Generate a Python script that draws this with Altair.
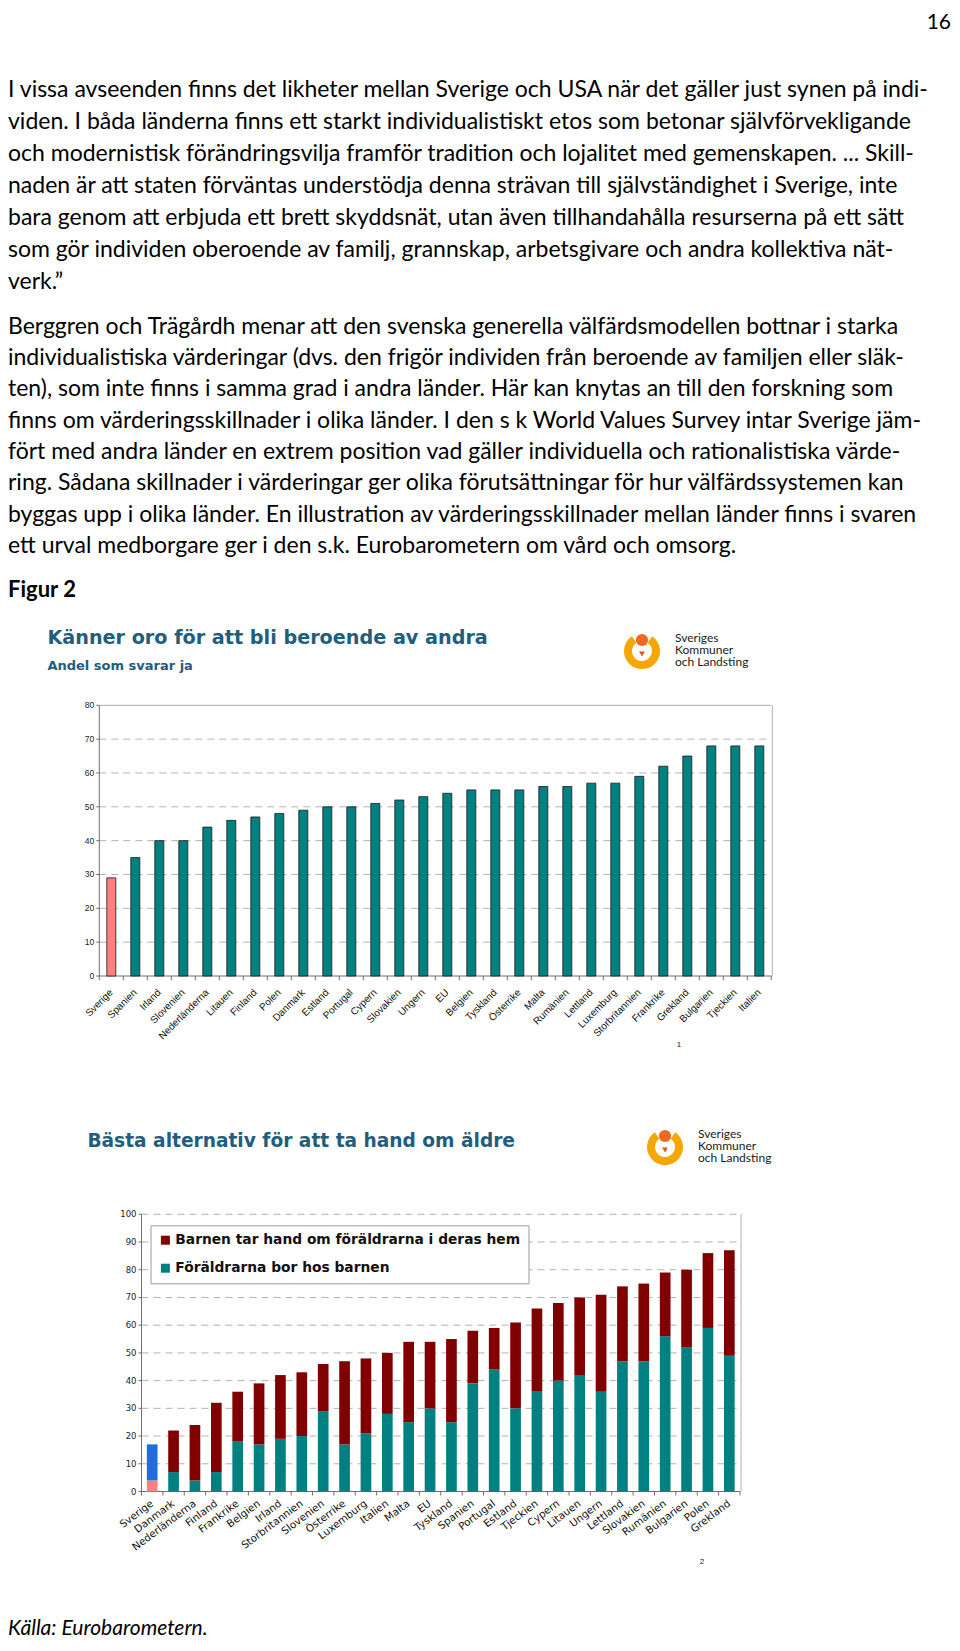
import altair as alt
import pandas as pd

# ---------------- data ----------------
page_number = "16"

para1 = [
    "I vissa avseenden finns det likheter mellan Sverige och USA när det gäller just synen på indi-",
    "viden. I båda länderna finns ett starkt individualistiskt etos som betonar självförvekligande",
    "och modernistisk förändringsvilja framför tradition och lojalitet med gemenskapen. ... Skill-",
    "naden är att staten förväntas understödja denna strävan till självständighet i Sverige, inte",
    "bara genom att erbjuda ett brett skyddsnät, utan även tillhandahålla resurserna på ett sätt",
    "som gör individen oberoende av familj, grannskap, arbetsgivare och andra kollektiva nät-",
    "verk.”",
]
para2 = [
    "Berggren och Trägårdh menar att den svenska generella välfärdsmodellen bottnar i starka",
    "individualistiska värderingar (dvs. den frigör individen från beroende av familjen eller släk-",
    "ten), som inte finns i samma grad i andra länder. Här kan knytas an till den forskning som",
    "finns om värderingsskillnader i olika länder. I den s k World Values Survey intar Sverige jäm-",
    "fört med andra länder en extrem position vad gäller individuella och rationalistiska värde-",
    "ring. Sådana skillnader i värderingar ger olika förutsättningar för hur välfärdssystemen kan",
    "byggas upp i olika länder. En illustration av värderingsskillnader mellan länder finns i svaren",
    "ett urval medborgare ger i den s.k. Eurobarometern om vård och omsorg.",
]
figure_label = "Figur 2"
source_note = "Källa: Eurobarometern."
logo_lines = ["Sveriges", "Kommuner", "och Landsting"]

c1_title = "Känner oro för att bli beroende av andra"
c1_subtitle = "Andel som svarar ja"
c1_countries = ["Sverige", "Spanien", "Irland", "Slovenien", "Nederländerna", "Litauen",
                "Finland", "Polen", "Danmark", "Estland", "Portugal", "Cypern", "Slovakien",
                "Ungern", "EU", "Belgien", "Tyskland", "Österrike", "Malta", "Rumänien",
                "Lettland", "Luxemburg", "Storbritannien", "Frankrike", "Grekland",
                "Bulgarien", "Tjeckien", "Italien"]
c1_values = [29, 35, 40, 40, 44, 46, 47, 48, 49, 50, 50, 51, 52, 53, 54, 55, 55, 55,
             56, 56, 57, 57, 59, 62, 65, 68, 68, 68]
c1_yticks = [0, 10, 20, 30, 40, 50, 60, 70, 80]
c1_note = "1"

c2_title = "Bästa alternativ för att ta hand om äldre"
c2_series = ["Barnen tar hand om föräldrarna i deras hem", "Föräldrarna bor hos barnen"]
c2_countries = ["Sverige", "Danmark", "Nederländerna", "Finland", "Frankrike", "Belgien",
                "Irland", "Storbritannien", "Slovenien", "Österrike", "Luxemburg", "Italien",
                "Malta", "EU", "Tyskland", "Spanien", "Portugal", "Estland", "Tjeckien",
                "Cypern", "Litauen", "Ungern", "Lettland", "Slovakien", "Rumänien",
                "Bulgarien", "Polen", "Grekland"]
c2_parents_live = [4, 7, 4, 7, 18, 17, 19, 20, 29, 17, 21, 28, 25, 30, 25, 39, 44, 30,
                   36, 40, 42, 36, 47, 47, 56, 52, 59, 49]
c2_total = [17, 22, 24, 32, 36, 39, 42, 43, 46, 47, 48, 50, 54, 54, 55, 58, 59, 61,
            66, 68, 70, 71, 74, 75, 79, 80, 86, 87]
c2_yticks = [0, 10, 20, 30, 40, 50, 60, 70, 80, 90, 100]
c2_note = "2"

# ---------------- layout / style ----------------
W, H = 944, 1632
X1L, X1R = 91.3, 763.3
Y1B, Y1T = 968.0, 697.3
X2L, X2R = 133.5, 732.0
Y2B, Y2T = 1483.5, 1206.3

TEAL = "#008080"
DARKRED = "#800000"
PINK = "#FF8080"
BLUE = "#1E6FD9"
TITLE_BLUE = "#215E7E"
BODY_FONT = "Lato"
WIDE_FONT = "DejaVu Sans"
ARIAL = "Liberation Sans"
NARROW = "Liberation Sans Narrow, Liberation Sans"
GRID = "#b3b3b3"
AXIS = "#6f6f6f"
BODY_SIZE = 23


def single(text):
    return alt.Chart(pd.DataFrame({"t": [text]}))


def text_block(lines, y_first, y_last):
    df = pd.DataFrame({"rad": list(range(len(lines))), "t": lines})
    return alt.Chart(df).mark_text(
        align="left", baseline="middle", font=BODY_FONT, fontSize=BODY_SIZE, color="#000"
    ).encode(
        x=alt.value(0),
        y=alt.Y("rad:Q", scale=alt.Scale(domain=[0, len(lines) - 1], range=[y_first, y_last]),
                axis=None),
        text="t:N",
    )


def logo(cx, cy, tx, ty):
    base = single("\n".join(logo_lines))
    arms = base.mark_arc(theta=0.6, theta2=5.68, innerRadius=10, outerRadius=18,
                         color="#F7A600").encode(x=alt.value(cx), y=alt.value(cy))
    head = base.mark_point(filled=True, shape="circle", size=150, color="#EE6A1F",
                           opacity=1).encode(x=alt.value(cx), y=alt.value(cy - 11))
    drop = base.mark_point(filled=True, shape="triangle-down", size=34, color="#E2531A",
                           opacity=1).encode(x=alt.value(cx), y=alt.value(cy + 3))
    lines = pd.DataFrame({"rad": list(range(len(logo_lines))), "t": logo_lines})
    txt = alt.Chart(lines).mark_text(align="left", baseline="middle", font=BODY_FONT,
                                     fontSize=12, color="#1a1a1a").encode(
        x=alt.value(tx),
        y=alt.Y("rad:Q", scale=alt.Scale(domain=[0, len(logo_lines) - 1],
                                         range=[ty, ty + 24.4]), axis=None),
        text="t:N")
    return [arms, head, drop, txt]


def bar_panel(countries, xl, xr, yscale, yb, ymax, yticks, ylab_font, ylab_size,
              xlab_font, xlab_size, xlab_angle, xlab_gap, grid_vals, frame_top_solid):
    n = len(countries)
    idx = alt.Scale(domain=[0, n], range=[xl, xr], nice=False, zero=False)
    out = []
    # grid
    out.append(alt.Chart(pd.DataFrame({"v": grid_vals})).mark_rule(
        color=GRID, strokeDash=[7, 5], strokeWidth=1).encode(
        y=alt.Y("v:Q", scale=yscale, axis=None), x=alt.value(xl), x2=alt.value(xr)))
    if frame_top_solid:
        out.append(alt.Chart(pd.DataFrame({"v": [ymax]})).mark_rule(
            color="#a9a9a9", strokeWidth=1).encode(
            y=alt.Y("v:Q", scale=yscale, axis=None), x=alt.value(xl), x2=alt.value(xr)))
    # right frame
    out.append(alt.Chart(pd.DataFrame({"lo": [0], "hi": [ymax]})).mark_rule(
        color="#b0b0b0", strokeWidth=1).encode(
        x=alt.value(xr + 1), y=alt.Y("lo:Q", scale=yscale, axis=None), y2="hi:Q"))
    # y axis domain, ticks, labels
    out.append(alt.Chart(pd.DataFrame({"lo": [0], "hi": [ymax]})).mark_rule(
        color=AXIS, strokeWidth=1).encode(
        x=alt.value(xl), y=alt.Y("lo:Q", scale=yscale, axis=None), y2="hi:Q"))
    ydf = pd.DataFrame({"v": yticks})
    out.append(alt.Chart(ydf).mark_rule(color=AXIS, strokeWidth=1).encode(
        x=alt.value(xl - 3), x2=alt.value(xl), y=alt.Y("v:Q", scale=yscale, axis=None)))
    out.append(alt.Chart(ydf).mark_text(align="right", baseline="middle", font=ylab_font,
                                         fontSize=ylab_size, color="#222").encode(
        x=alt.value(xl - 5), y=alt.Y("v:Q", scale=yscale, axis=None), text="v:Q"))
    # x axis domain, ticks, labels
    out.append(alt.Chart(pd.DataFrame({"v": [0]})).mark_rule(color=AXIS, strokeWidth=1).encode(
        y=alt.Y("v:Q", scale=yscale, axis=None), x=alt.value(xl), x2=alt.value(xr)))
    out.append(alt.Chart(pd.DataFrame({"i": list(range(n + 1))})).mark_rule(
        color=AXIS, strokeWidth=1).encode(
        x=alt.X("i:Q", scale=idx, axis=None), y=alt.value(yb), y2=alt.value(yb + 4)))
    ldf = pd.DataFrame({"pos": [i + 0.5 for i in range(n)], "land": countries})
    out.append(alt.Chart(ldf).mark_text(angle=xlab_angle, align="right", baseline="middle",
                                         font=xlab_font, fontSize=xlab_size,
                                         color="#111").encode(
        x=alt.X("pos:Q", scale=idx, axis=None), y=alt.value(yb + xlab_gap), text="land:N"))
    return out


# ---------------- text ----------------
p1 = text_block(para1, 82.0, 273.7)
p2 = text_block(para2, 318.7, 538.0)
fig = single(figure_label).mark_text(align="left", baseline="middle", font=BODY_FONT,
                                     fontSize=22, fontWeight="bold", color="#000").encode(
    x=alt.value(0), y=alt.value(582), text="t:N")
pno = single(page_number).mark_text(align="right", baseline="top", font=BODY_FONT,
                                    fontSize=21, color="#000").encode(
    x=alt.value(943), y=alt.value(4), text="t:N")
src = single(source_note).mark_text(align="left", baseline="bottom", font=BODY_FONT,
                                    fontSize=21, fontStyle="italic", color="#000").encode(
    x=alt.value(0), y=alt.value(1631), text="t:N")

# ---------------- chart 1 ----------------
c1t = single(c1_title).mark_text(align="left", baseline="middle", font=WIDE_FONT,
                                 fontSize=19.2, fontWeight="bold", color=TITLE_BLUE).encode(
    x=alt.value(39.4), y=alt.value(630), text="t:N")
c1s = single(c1_subtitle).mark_text(align="left", baseline="middle", font=WIDE_FONT,
                                    fontSize=13, fontWeight="bold", color=TITLE_BLUE).encode(
    x=alt.value(39.4), y=alt.value(658), text="t:N")

c1_df = pd.DataFrame({"land": c1_countries, "andel": c1_values})
c1_yscale = alt.Scale(domain=[0, 80], range=[Y1B, Y1T], nice=False, zero=False)
c1_xscale = alt.Scale(type="band", domain=c1_countries, range=[X1L, X1R], paddingInner=0.625,
                      paddingOuter=0.3125)

c1_furniture = bar_panel(c1_countries, X1L, X1R, c1_yscale, Y1B, 80, c1_yticks, ARIAL, 8.5,
                         NARROW, 10, 315, 15, c1_yticks[1:-1], True)
c1_bars = alt.Chart(c1_df).mark_bar(stroke="#1a1a1a", strokeWidth=0.8).encode(
    x=alt.X("land:N", title=None, scale=c1_xscale, axis=None),
    y=alt.Y("andel:Q", title=None, scale=c1_yscale, axis=None),
    color=alt.condition(alt.datum.land == "Sverige", alt.value(PINK), alt.value(TEAL)),
)
n1 = single(c1_note).mark_text(font=ARIAL, fontSize=8, color="#222").encode(
    x=alt.value(671), y=alt.value(1037), text="t:N")

# ---------------- chart 2 ----------------
c2t = single(c2_title).mark_text(align="left", baseline="middle", font=WIDE_FONT,
                                 fontSize=18.6, fontWeight="bold", color=TITLE_BLUE).encode(
    x=alt.value(79.4), y=alt.value(1133), text="t:N")

rows = []
for land, f, t in zip(c2_countries, c2_parents_live, c2_total):
    rows.append({"land": land, "serie": c2_series[1], "lo": 0, "hi": f})
    rows.append({"land": land, "serie": c2_series[0], "lo": f, "hi": t})
c2_df = pd.DataFrame(rows)

c2_yscale = alt.Scale(domain=[0, 100], range=[Y2B, Y2T], nice=False, zero=False)
c2_xscale = alt.Scale(type="band", domain=c2_countries, range=[X2L, X2R], paddingInner=0.5,
                      paddingOuter=0.25)

c2_furniture = bar_panel(c2_countries, X2L, X2R, c2_yscale, Y2B, 100, c2_yticks, WIDE_FONT,
                         8.5, WIDE_FONT, 10.3, 323, 11, c2_yticks[1:], False)
c2_bars = alt.Chart(c2_df).transform_filter(alt.datum.land != "Sverige").mark_bar().encode(
    x=alt.X("land:N", title=None, scale=c2_xscale, axis=None),
    y=alt.Y("lo:Q", title=None, scale=c2_yscale, axis=None),
    y2="hi:Q",
    color=alt.Color("serie:N", scale=alt.Scale(domain=c2_series, range=[DARKRED, TEAL]),
                    legend=alt.Legend(title=None, orient="none", legendX=142.5,
                                      legendY=1217.3, direction="vertical",
                                      symbolType="square", symbolSize=81,
                                      symbolStrokeWidth=0, symbolOffset=0,
                                      labelFont=WIDE_FONT, labelFontWeight="bold",
                                      labelFontSize=13.8, labelColor="#111", labelOffset=3,
                                      labelLimit=0, rowPadding=13, padding=8,
                                      strokeColor="#9a9a9a", fillColor="white",
                                      offset=0)),
)
c2_sverige = alt.Chart(c2_df).transform_filter(alt.datum.land == "Sverige").mark_bar().encode(
    x=alt.X("land:N", title=None, scale=c2_xscale, axis=None),
    y=alt.Y("lo:Q", title=None, scale=c2_yscale, axis=None),
    y2="hi:Q",
    color=alt.condition(alt.datum.serie == c2_series[0], alt.value(BLUE), alt.value(PINK)),
)
n2 = single(c2_note).mark_text(font=ARIAL, fontSize=8, color="#222").encode(
    x=alt.value(694), y=alt.value(1554), text="t:N")

layers = ([p1, p2, fig, pno, c1t, c1s] + logo(634, 643, 667, 630)
          + c1_furniture + [c1_bars, n1, c2t] + logo(657, 1139, 690, 1126)
          + c2_furniture + [c2_bars, c2_sverige, n2, src])

chart = alt.layer(*layers).properties(
    width=W, height=H, padding=0, autosize=alt.AutoSizeParams(type="none"),
    background="white",
).resolve_scale(x="independent", y="independent").configure_view(stroke=None)

chart.save("out.html", embed_options={"renderer": "svg", "actions": False})
